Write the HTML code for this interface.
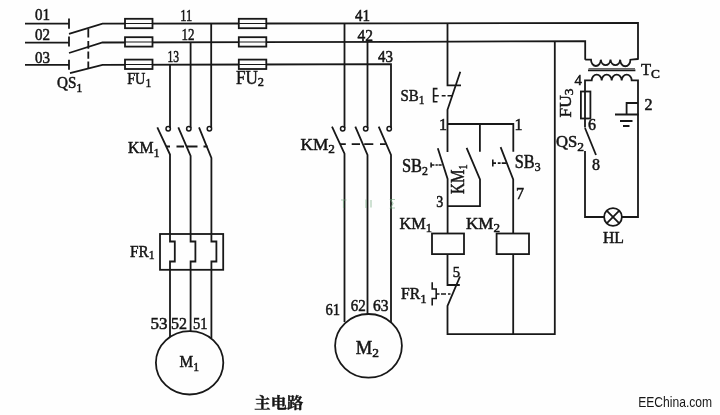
<!DOCTYPE html>
<html><head><meta charset="utf-8">
<style>
html,body{margin:0;padding:0;background:#fefefe;}
svg{display:block}
text{font-family:"Liberation Serif","Noto Serif CJK SC",serif;fill:#151515;stroke:#151515;stroke-width:0.5}
.l{stroke:#181818;stroke-width:1.8;fill:none;stroke-linecap:butt;stroke-linejoin:miter}
.t{stroke:#181818;stroke-width:1.5;fill:none}
.d{stroke:#181818;stroke-width:1.6;fill:none}
.f{stroke:#181818;stroke-width:1.8;fill:#fefefe}
.s{font-size:13px}
</style></head><body>
<svg width="720" height="415" viewBox="0 0 720 415">
<rect width="720" height="415" fill="#fefefe"/>
<!-- main bus -->
<g class="l">
<path d="M25 23.7H69M69 18.5V28.8M69 33.8L102.5 23.7L400 23.3L638 23V59.7"/>
<path d="M25 42.6H69M69 36.5V46.5M69 53L102.5 42.5L400 41.8L585.2 41.2V59.7"/>
<path d="M25 64.9H69M69 59.8V69.8M70 73.2L102.5 64.8L391 64.2V128"/>
<path d="M88.3 28.7V37.5M88.3 41V48.8M88.3 51.5V58.8M88.3 61.5V68.8"/>
<!-- KM1 feed -->
<path d="M170 64.5V128M190.6 42V128M211.2 23.5V128"/>
<path d="M157.3 127.3L170 154.5V234.5M178.3 127.3L190.6 156V234.5M199 127.3L211.4 158V234.5"/>
<path d="M166 146.5H170M176.5 146.5H184M187 146.5H197.5M203.5 146.5H207.5"/>
<!-- KM2 feed -->
<path d="M344.5 23.5V128M367.5 42V128"/>
<path d="M332 126.7L344.5 153.7V322M355.3 126.7L367.5 155V314M378.7 126.7L391 155V322"/>
<path d="M340 144.2H345.8M351.7 144.2H360M364.2 144.2H373.3M380 144.2H385.8"/>
</g>
<!-- contact dots -->
<g class="t">
<circle cx="168.2" cy="128.8" r="2.2"/><circle cx="188.8" cy="128.8" r="2.2"/><circle cx="209.4" cy="128.8" r="2.2"/>
<circle cx="342.7" cy="128.8" r="2.2"/><circle cx="365.7" cy="128.8" r="2.2"/><circle cx="389.2" cy="128.8" r="2.2"/>
</g>
<!-- fuses -->
<g class="f">
<rect x="125" y="18.8" width="27.5" height="9.4"/><rect x="125" y="37.2" width="27.5" height="9.4"/><rect x="125" y="59.6" width="27.5" height="9.4"/>
<rect x="238.8" y="18.8" width="27.5" height="9.4"/><rect x="238.8" y="37.2" width="27.5" height="9.4"/><rect x="238.8" y="59.6" width="27.5" height="9.4"/>
</g>
<g class="l"><path d="M125 23.5H152.5M125 42H152.5M125 64.5H152.5M238.8 23.5H266.3M238.8 42H266.3M238.8 64.5H266.3" stroke-width="1.2"/></g>
<!-- FR1 main -->
<g class="l">
<rect x="160" y="234" width="63.2" height="35.8"/>
<path d="M170 234.5V241.5H174.8V261.5H170V337M190.6 234.5V241.5H195.4V261.5H190.6V331M211.4 234.5V241.5H216.4V261.5H211.4V338"/>
<ellipse cx="189.6" cy="362.8" rx="33.7" ry="31.7"/>
<ellipse cx="368.5" cy="345.8" rx="33.4" ry="31.8"/>
</g>
<!-- control circuit -->
<g class="l">
<path d="M447.5 23.5V85.3H461M460.3 71.8L447.5 109.8V152"/>
<path d="M447.5 124H513.3V151.7M479.9 124V151.7"/>
<path d="M437.8 148.2L447.6 178.9V233M466.6 147.8L480 179.4V206.2H447.6M500.6 147.2L513.2 179.4V233"/>
<rect x="432" y="233.5" width="32" height="20.6"/><rect x="496.6" y="233.5" width="32.4" height="20.6"/>
<path d="M447.5 254V285H459.8M460 276.5L447.5 306V334.2H554.8V41.3M513.2 254V334.2"/>
</g>
<g class="d">
<path d="M441.7 95.8H445.6M447.5 95.8H452.4"/>
<path d="M437.5 88.6H433.6V101.8H437.5M433.6 95.8H438.8"/>
<path d="M431.1 162.6V167.4M431 165H434.4M435.5 165H437.8M438.5 165H441.7"/>
<path d="M492.8 159.6V166.6M492.8 163.1H496M497.8 163.1H500.6M501.7 163.1H506"/>
<path d="M432.2 282.2V289H436.2V298.5H432.2V305.5"/>
<path d="M436.7 294H439.5M441 294H446M448 294H450.5"/>
</g>
<!-- transformer & lamp circuit -->
<g class="l">
<path d="M585.2 59.7H591A4.9 6.3 0 0 0 600.8 59.7A4.9 6.3 0 0 0 610.5 59.7A4.9 6.3 0 0 0 620.2 59.7A4.9 6.3 0 0 0 630.4 59.7L638 59"/>
<path d="M588.5 68.7H635" stroke-width="1" stroke="#444"/><path d="M588 70.3H635.4" stroke-width="1.7"/>
<path d="M585 127.5V80.4H591.7A5 5.8 0 0 1 601.7 80.4A5 5.8 0 0 1 611.7 80.4A5 5.8 0 0 1 621.7 80.4A5 5.8 0 0 1 631.7 80.4H638V217H622M604 217H585V151"/>
<rect x="580.9" y="91.5" width="9.5" height="27" />
<path d="M585 128L596 155"/>
<circle cx="613" cy="217" r="8.9"/>
<path d="M606.7 210.7L619.3 223.3M619.3 210.7L606.7 223.3"/>
<path d="M638 103H626.6V114.5M615 114.5H638.7M620 121H632.5M623 126H629.5"/>
</g>
<!-- faint watermark marks -->
<g stroke="#6fa77c" stroke-width="1.2" fill="none" opacity="0.55">
<path d="M341 200H346.5M343.5 200V208"/>
<path d="M366 199.5V208M371 200V207.5"/>
<path d="M395 199.5H390.5L393 203.5L390.5 208H395"/>
</g>
<!-- labels -->
<g font-size="16" style="filter:grayscale(1)">
<text x="35" y="19.5" textLength="15" lengthAdjust="spacingAndGlyphs">01</text>
<text x="35" y="40" textLength="15" lengthAdjust="spacingAndGlyphs">02</text>
<text x="35" y="62.5" textLength="15" lengthAdjust="spacingAndGlyphs">03</text>
<text x="180.3" y="21" textLength="12" lengthAdjust="spacingAndGlyphs">11</text>
<text x="181.5" y="39.6" textLength="13" lengthAdjust="spacingAndGlyphs">12</text>
<text x="167.5" y="61.7" textLength="11.5" lengthAdjust="spacingAndGlyphs">13</text>
<text x="355" y="21" textLength="15" lengthAdjust="spacingAndGlyphs">41</text>
<text x="357.5" y="41" textLength="15.5" lengthAdjust="spacingAndGlyphs">42</text>
<text x="378" y="61.7" textLength="15" lengthAdjust="spacingAndGlyphs">43</text>
<text x="57" y="87.5" textLength="25.5" lengthAdjust="spacingAndGlyphs">QS<tspan class="s" dy="4">1</tspan></text>
<text x="127.2" y="84" textLength="24" lengthAdjust="spacingAndGlyphs">FU<tspan class="s" dy="2.7">1</tspan></text>
<text x="236" y="83.8" font-size="18" textLength="28" lengthAdjust="spacingAndGlyphs">FU<tspan class="s" dy="2">2</tspan></text>
<text x="128" y="153.4" font-size="17" textLength="31.5" lengthAdjust="spacingAndGlyphs">KM<tspan class="s" dy="4">1</tspan></text>
<text x="300.5" y="150.2" font-size="17" textLength="34.5" lengthAdjust="spacingAndGlyphs">KM<tspan class="s" dy="2.5">2</tspan></text>
<text x="130" y="256.6" font-size="17" textLength="24.5" lengthAdjust="spacingAndGlyphs">FR<tspan class="s" dy="2.7">1</tspan></text>
<text x="150.5" y="329.3" textLength="17" lengthAdjust="spacingAndGlyphs">53</text>
<text x="171" y="329.3" textLength="16" lengthAdjust="spacingAndGlyphs">52</text>
<text x="193" y="329.3" textLength="14.5" lengthAdjust="spacingAndGlyphs">51</text>
<text x="179.5" y="367" font-size="17" textLength="19.5" lengthAdjust="spacingAndGlyphs">M<tspan class="s" dy="3.5">1</tspan></text>
<text x="325.5" y="315.3" textLength="14.5" lengthAdjust="spacingAndGlyphs">61</text>
<text x="350.8" y="311.4" textLength="15" lengthAdjust="spacingAndGlyphs">62</text>
<text x="373" y="311.4" textLength="15.5" lengthAdjust="spacingAndGlyphs">63</text>
<text x="355.8" y="353.6" font-size="18" textLength="23.2" lengthAdjust="spacingAndGlyphs">M<tspan class="s" dy="3">2</tspan></text>
<text x="400.5" y="101" font-size="17" textLength="24" lengthAdjust="spacingAndGlyphs">SB<tspan class="s" dy="2.7">1</tspan></text>
<text x="402" y="172.3" font-size="18" textLength="26" lengthAdjust="spacingAndGlyphs">SB<tspan class="s" dy="3">2</tspan></text>
<text x="514.8" y="167.6" font-size="18" textLength="25.8" lengthAdjust="spacingAndGlyphs">SB<tspan class="s" dy="3">3</tspan></text>
<text x="439" y="130">1</text>
<text x="514.5" y="130">1</text>
<text x="436.3" y="207" textLength="7" lengthAdjust="spacingAndGlyphs">3</text>
<text x="516" y="199">7</text>
<text x="399.5" y="228.5" font-size="17" textLength="32.5" lengthAdjust="spacingAndGlyphs">KM<tspan class="s" dy="3.3">1</tspan></text>
<text x="466" y="229" font-size="17" textLength="34" lengthAdjust="spacingAndGlyphs">KM<tspan class="s" dy="3.3">2</tspan></text>
<text x="452.8" y="276.8" font-size="14.5">5</text>
<text x="401" y="299" textLength="25.5" lengthAdjust="spacingAndGlyphs">FR<tspan class="s" dy="4">1</tspan></text>
<text x="641" y="75" textLength="19" lengthAdjust="spacingAndGlyphs">T<tspan font-size="13" dy="2.5">C</tspan></text>
<text x="574.6" y="84.5" font-size="15" textLength="7.4" lengthAdjust="spacingAndGlyphs">4</text>
<text x="644.5" y="109.5">2</text>
<text x="588" y="130">6</text>
<text x="592" y="170">8</text>
<text x="556" y="147" textLength="28" lengthAdjust="spacingAndGlyphs">QS<tspan class="s" dy="4">2</tspan></text>
<text x="603" y="243" font-size="17" textLength="21" lengthAdjust="spacingAndGlyphs">HL</text>
<text transform="translate(571.3,117.5) rotate(-90)" font-size="17" textLength="29" lengthAdjust="spacingAndGlyphs">FU<tspan font-size="13" dy="1.5">3</tspan></text>
<text transform="translate(463.5,194) rotate(-90)" font-size="18" textLength="29.5" lengthAdjust="spacingAndGlyphs">KM<tspan font-size="12" dy="3">1</tspan></text>
</g>
<g style="filter:grayscale(1)">
<text x="254.3" y="408" font-size="15.2" font-weight="bold" textLength="49" lengthAdjust="spacingAndGlyphs" style="font-family:'Liberation Serif','Noto Serif CJK SC',serif;stroke-width:0.35">主电路</text>
<text x="638.2" y="407.2" font-size="14.4" textLength="74" lengthAdjust="spacingAndGlyphs" style="font-family:'Liberation Sans',sans-serif;fill:#161616;stroke:none">EEChina.com</text>
</g>
</svg>
</body></html>
